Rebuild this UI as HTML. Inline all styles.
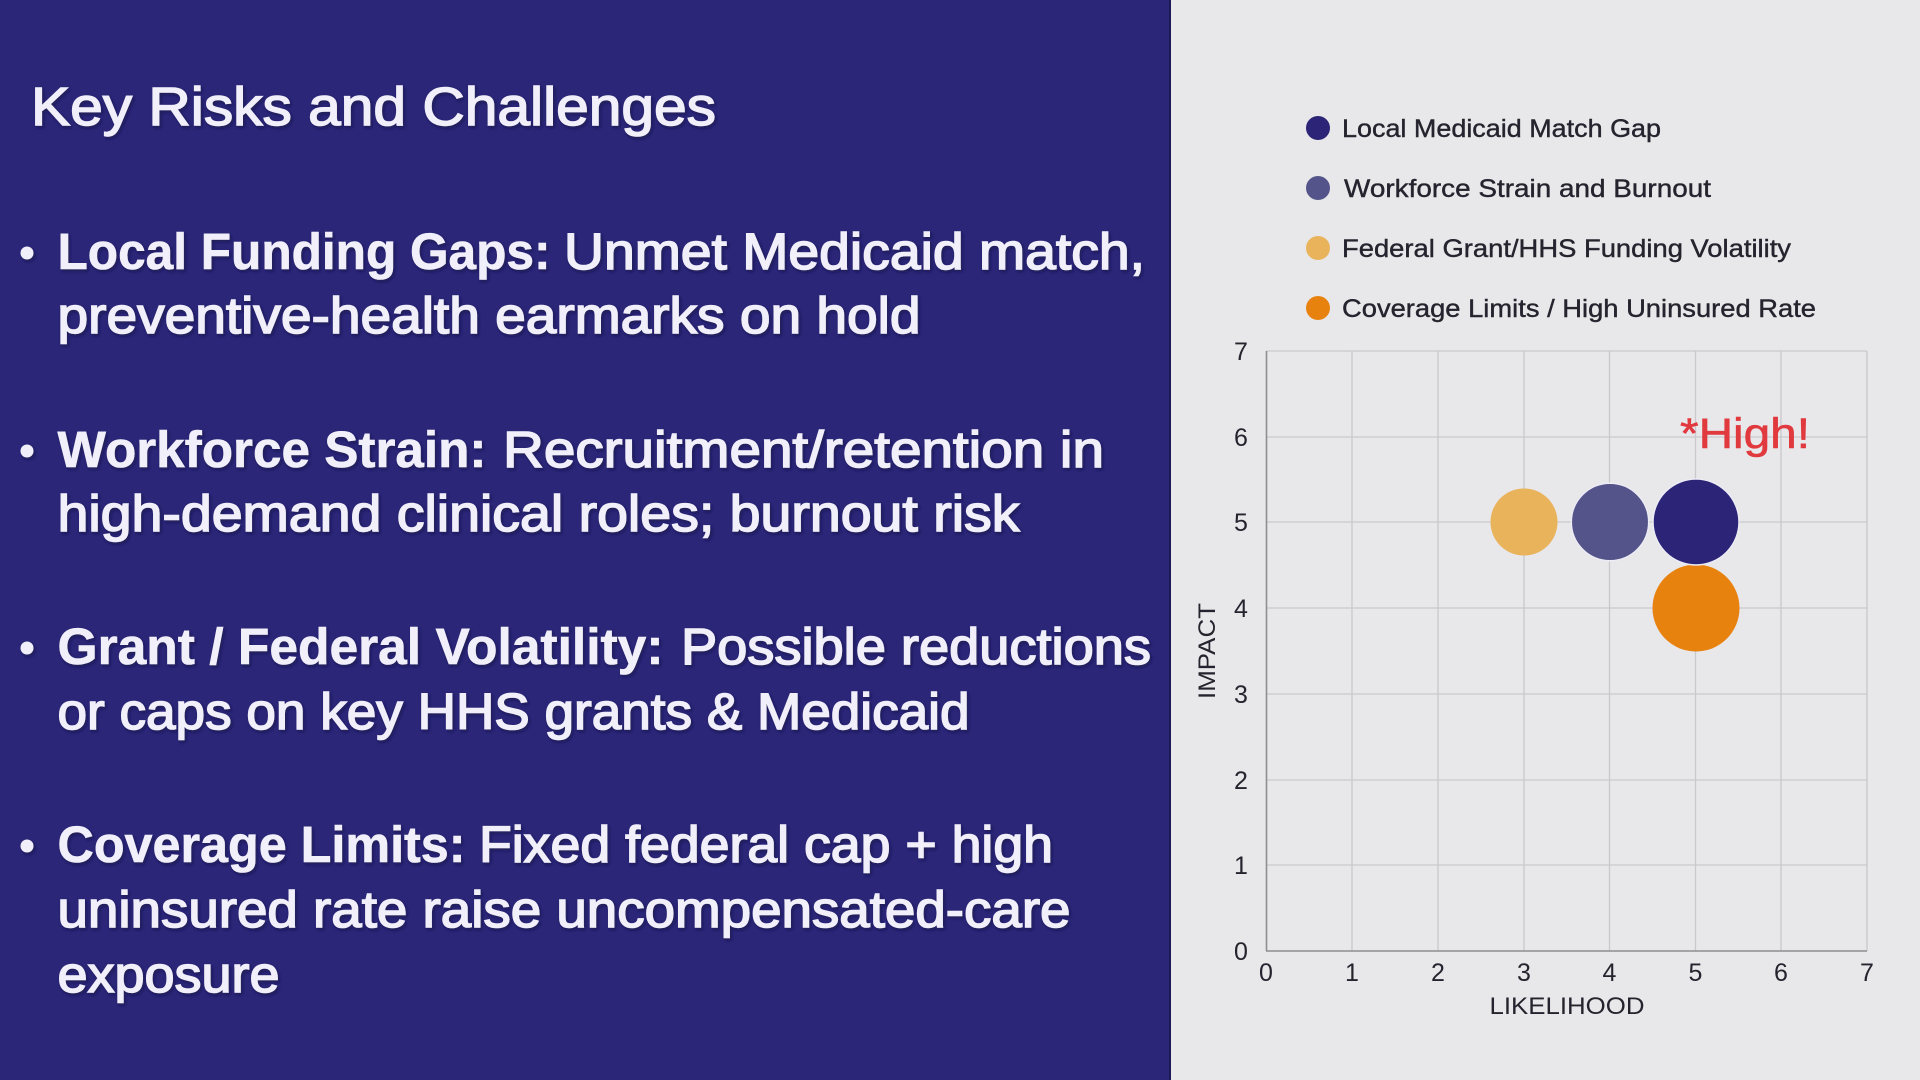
<!DOCTYPE html>
<html>
<head>
<meta charset="utf-8">
<style>
  html,body{margin:0;padding:0;width:1920px;height:1080px;overflow:hidden;background:#e8e7e9;}
  svg{display:block;}
  .t{font-family:"Liberation Sans",Arial,sans-serif;}
</style>
</head>
<body>
<svg width="1920" height="1080" viewBox="0 0 1920 1080" xmlns="http://www.w3.org/2000/svg">
  <defs>
    <filter id="sh" x="-5%" y="-20%" width="110%" height="150%">
      <feDropShadow dx="1.5" dy="2" stdDeviation="1.5" flood-color="#120f3a" flood-opacity="0.6"/>
    </filter>
  </defs>
  <!-- backgrounds -->
  <rect x="0" y="0" width="1920" height="1080" fill="#e8e7e9"/>
  <rect x="0" y="0" width="1171" height="1080" fill="#2b2678"/>
  <rect x="1169" y="0" width="2" height="1080" fill="#1d1a55"/>

  <g filter="url(#sh)">
  <!-- Title -->
  <text class="t" x="31" y="125" font-size="54" fill="#f1effa" stroke="#f1effa" stroke-width="1.4" textLength="685" lengthAdjust="spacingAndGlyphs">Key Risks and Challenges</text>

  <!-- Bullets -->
  <g fill="#f1effa">
    <circle cx="27" cy="253" r="6.5"/>
    <circle cx="27" cy="451" r="6.5"/>
    <circle cx="27" cy="648" r="6.5"/>
    <circle cx="27" cy="846" r="6.5"/>
  </g>

  <g class="t" font-size="51" fill="#f1effa">
    <!-- Block 1 -->
    <text x="57.5" y="269" font-weight="bold" stroke="#f1effa" stroke-width="0.6" textLength="493" lengthAdjust="spacingAndGlyphs">Local Funding Gaps:</text>
    <text x="564" y="269" stroke="#f1effa" stroke-width="1.5" textLength="581" lengthAdjust="spacingAndGlyphs">Unmet Medicaid match,</text>
    <text x="57.5" y="333" stroke="#f1effa" stroke-width="1.5" textLength="863" lengthAdjust="spacingAndGlyphs">preventive-health earmarks on hold</text>

    <!-- Block 2 -->
    <text x="57.5" y="467" font-weight="bold" stroke="#f1effa" stroke-width="0.6" textLength="429" lengthAdjust="spacingAndGlyphs">Workforce Strain:</text>
    <text x="503" y="467" stroke="#f1effa" stroke-width="1.5" textLength="601" lengthAdjust="spacingAndGlyphs">Recruitment/retention in</text>
    <text x="57.5" y="531" stroke="#f1effa" stroke-width="1.5" textLength="962" lengthAdjust="spacingAndGlyphs">high-demand clinical roles; burnout risk</text>

    <!-- Block 3 -->
    <text x="57.5" y="664" font-weight="bold" stroke="#f1effa" stroke-width="0.6" textLength="606" lengthAdjust="spacingAndGlyphs">Grant / Federal Volatility:</text>
    <text x="681" y="664" stroke="#f1effa" stroke-width="1.5" textLength="470" lengthAdjust="spacingAndGlyphs">Possible reductions</text>
    <text x="57.5" y="729" stroke="#f1effa" stroke-width="1.5" textLength="912" lengthAdjust="spacingAndGlyphs">or caps on key HHS grants &amp; Medicaid</text>

    <!-- Block 4 -->
    <text x="57.5" y="862" font-weight="bold" stroke="#f1effa" stroke-width="0.6" textLength="408" lengthAdjust="spacingAndGlyphs">Coverage Limits:</text>
    <text x="479" y="862" stroke="#f1effa" stroke-width="1.5" textLength="574" lengthAdjust="spacingAndGlyphs">Fixed federal cap + high</text>
    <text x="57.5" y="927" stroke="#f1effa" stroke-width="1.5" textLength="1013" lengthAdjust="spacingAndGlyphs">uninsured rate raise uncompensated-care</text>
    <text x="57.5" y="992" stroke="#f1effa" stroke-width="1.5" textLength="222" lengthAdjust="spacingAndGlyphs">exposure</text>
  </g>
  </g>

  <!-- Legend -->
  <g>
    <circle cx="1318" cy="128" r="12" fill="#2b2477"/>
    <circle cx="1318" cy="188" r="12" fill="#55548a"/>
    <circle cx="1318" cy="248" r="12" fill="#e9b35c"/>
    <circle cx="1318" cy="308" r="12" fill="#e8820f"/>
  </g>
  <g class="t" font-size="25" fill="#25242e" stroke="#25242e" stroke-width="0.4">
    <text x="1342" y="137" textLength="319" lengthAdjust="spacingAndGlyphs">Local Medicaid Match Gap</text>
    <text x="1344" y="197" textLength="367" lengthAdjust="spacingAndGlyphs">Workforce Strain and Burnout</text>
    <text x="1342" y="257" textLength="449" lengthAdjust="spacingAndGlyphs">Federal Grant/HHS Funding Volatility</text>
    <text x="1342" y="317" textLength="474" lengthAdjust="spacingAndGlyphs">Coverage Limits / High Uninsured Rate</text>
  </g>

  <!-- Grid -->
  <g stroke="#c9c8cb" stroke-width="1.3">
    <line x1="1352" y1="351" x2="1352" y2="951"/>
    <line x1="1438" y1="351" x2="1438" y2="951"/>
    <line x1="1524" y1="351" x2="1524" y2="951"/>
    <line x1="1609.5" y1="351" x2="1609.5" y2="951"/>
    <line x1="1695.5" y1="351" x2="1695.5" y2="951"/>
    <line x1="1781" y1="351" x2="1781" y2="951"/>
    <line x1="1867" y1="351" x2="1867" y2="951"/>
    <line x1="1266" y1="351" x2="1867" y2="351"/>
    <line x1="1266" y1="437" x2="1867" y2="437"/>
    <line x1="1266" y1="522" x2="1867" y2="522"/>
    <line x1="1266" y1="608" x2="1867" y2="608"/>
    <line x1="1266" y1="694" x2="1867" y2="694"/>
    <line x1="1266" y1="780" x2="1867" y2="780"/>
    <line x1="1266" y1="865" x2="1867" y2="865"/>
  </g>
  <!-- Axes -->
  <g stroke="#8e8d92" stroke-width="1.6">
    <line x1="1266.5" y1="351" x2="1266.5" y2="951"/>
    <line x1="1266" y1="951" x2="1867" y2="951"/>
  </g>

  <!-- Y tick labels -->
  <g class="t" font-size="25" fill="#25242e" text-anchor="middle">
    <text x="1241" y="960">0</text>
    <text x="1241" y="874">1</text>
    <text x="1241" y="789">2</text>
    <text x="1241" y="703">3</text>
    <text x="1241" y="617">4</text>
    <text x="1241" y="531">5</text>
    <text x="1241" y="446">6</text>
    <text x="1241" y="360">7</text>
  </g>
  <!-- X tick labels -->
  <g class="t" font-size="25" fill="#25242e" text-anchor="middle">
    <text x="1266" y="981">0</text>
    <text x="1352" y="981">1</text>
    <text x="1438" y="981">2</text>
    <text x="1524" y="981">3</text>
    <text x="1609.5" y="981">4</text>
    <text x="1695.5" y="981">5</text>
    <text x="1781" y="981">6</text>
    <text x="1867" y="981">7</text>
  </g>
  <!-- Axis titles -->
  <text class="t" x="1567" y="1014" font-size="24" fill="#25242e" text-anchor="middle" textLength="155" lengthAdjust="spacingAndGlyphs">LIKELIHOOD</text>
  <text class="t" transform="translate(1215,651) rotate(-90)" x="0" y="0" font-size="24" fill="#25242e" text-anchor="middle" textLength="96" lengthAdjust="spacingAndGlyphs">IMPACT</text>

  <!-- Bubbles -->
  <circle cx="1524" cy="522" r="33.5" fill="#e9b35c"/>
  <circle cx="1610" cy="522" r="38.7" fill="#55548a" stroke="#ececf6" stroke-width="1.5"/>
  <circle cx="1696" cy="608" r="43.5" fill="#e8820f"/>
  <circle cx="1696" cy="522" r="43" fill="#2b2477" stroke="#ececf6" stroke-width="1.5"/>

  <!-- High label -->
  <text class="t" x="1680" y="448" font-size="43" fill="#e0393e" stroke="#e0393e" stroke-width="0.6" textLength="130" lengthAdjust="spacingAndGlyphs">*High!</text>
</svg>
</body>
</html>
